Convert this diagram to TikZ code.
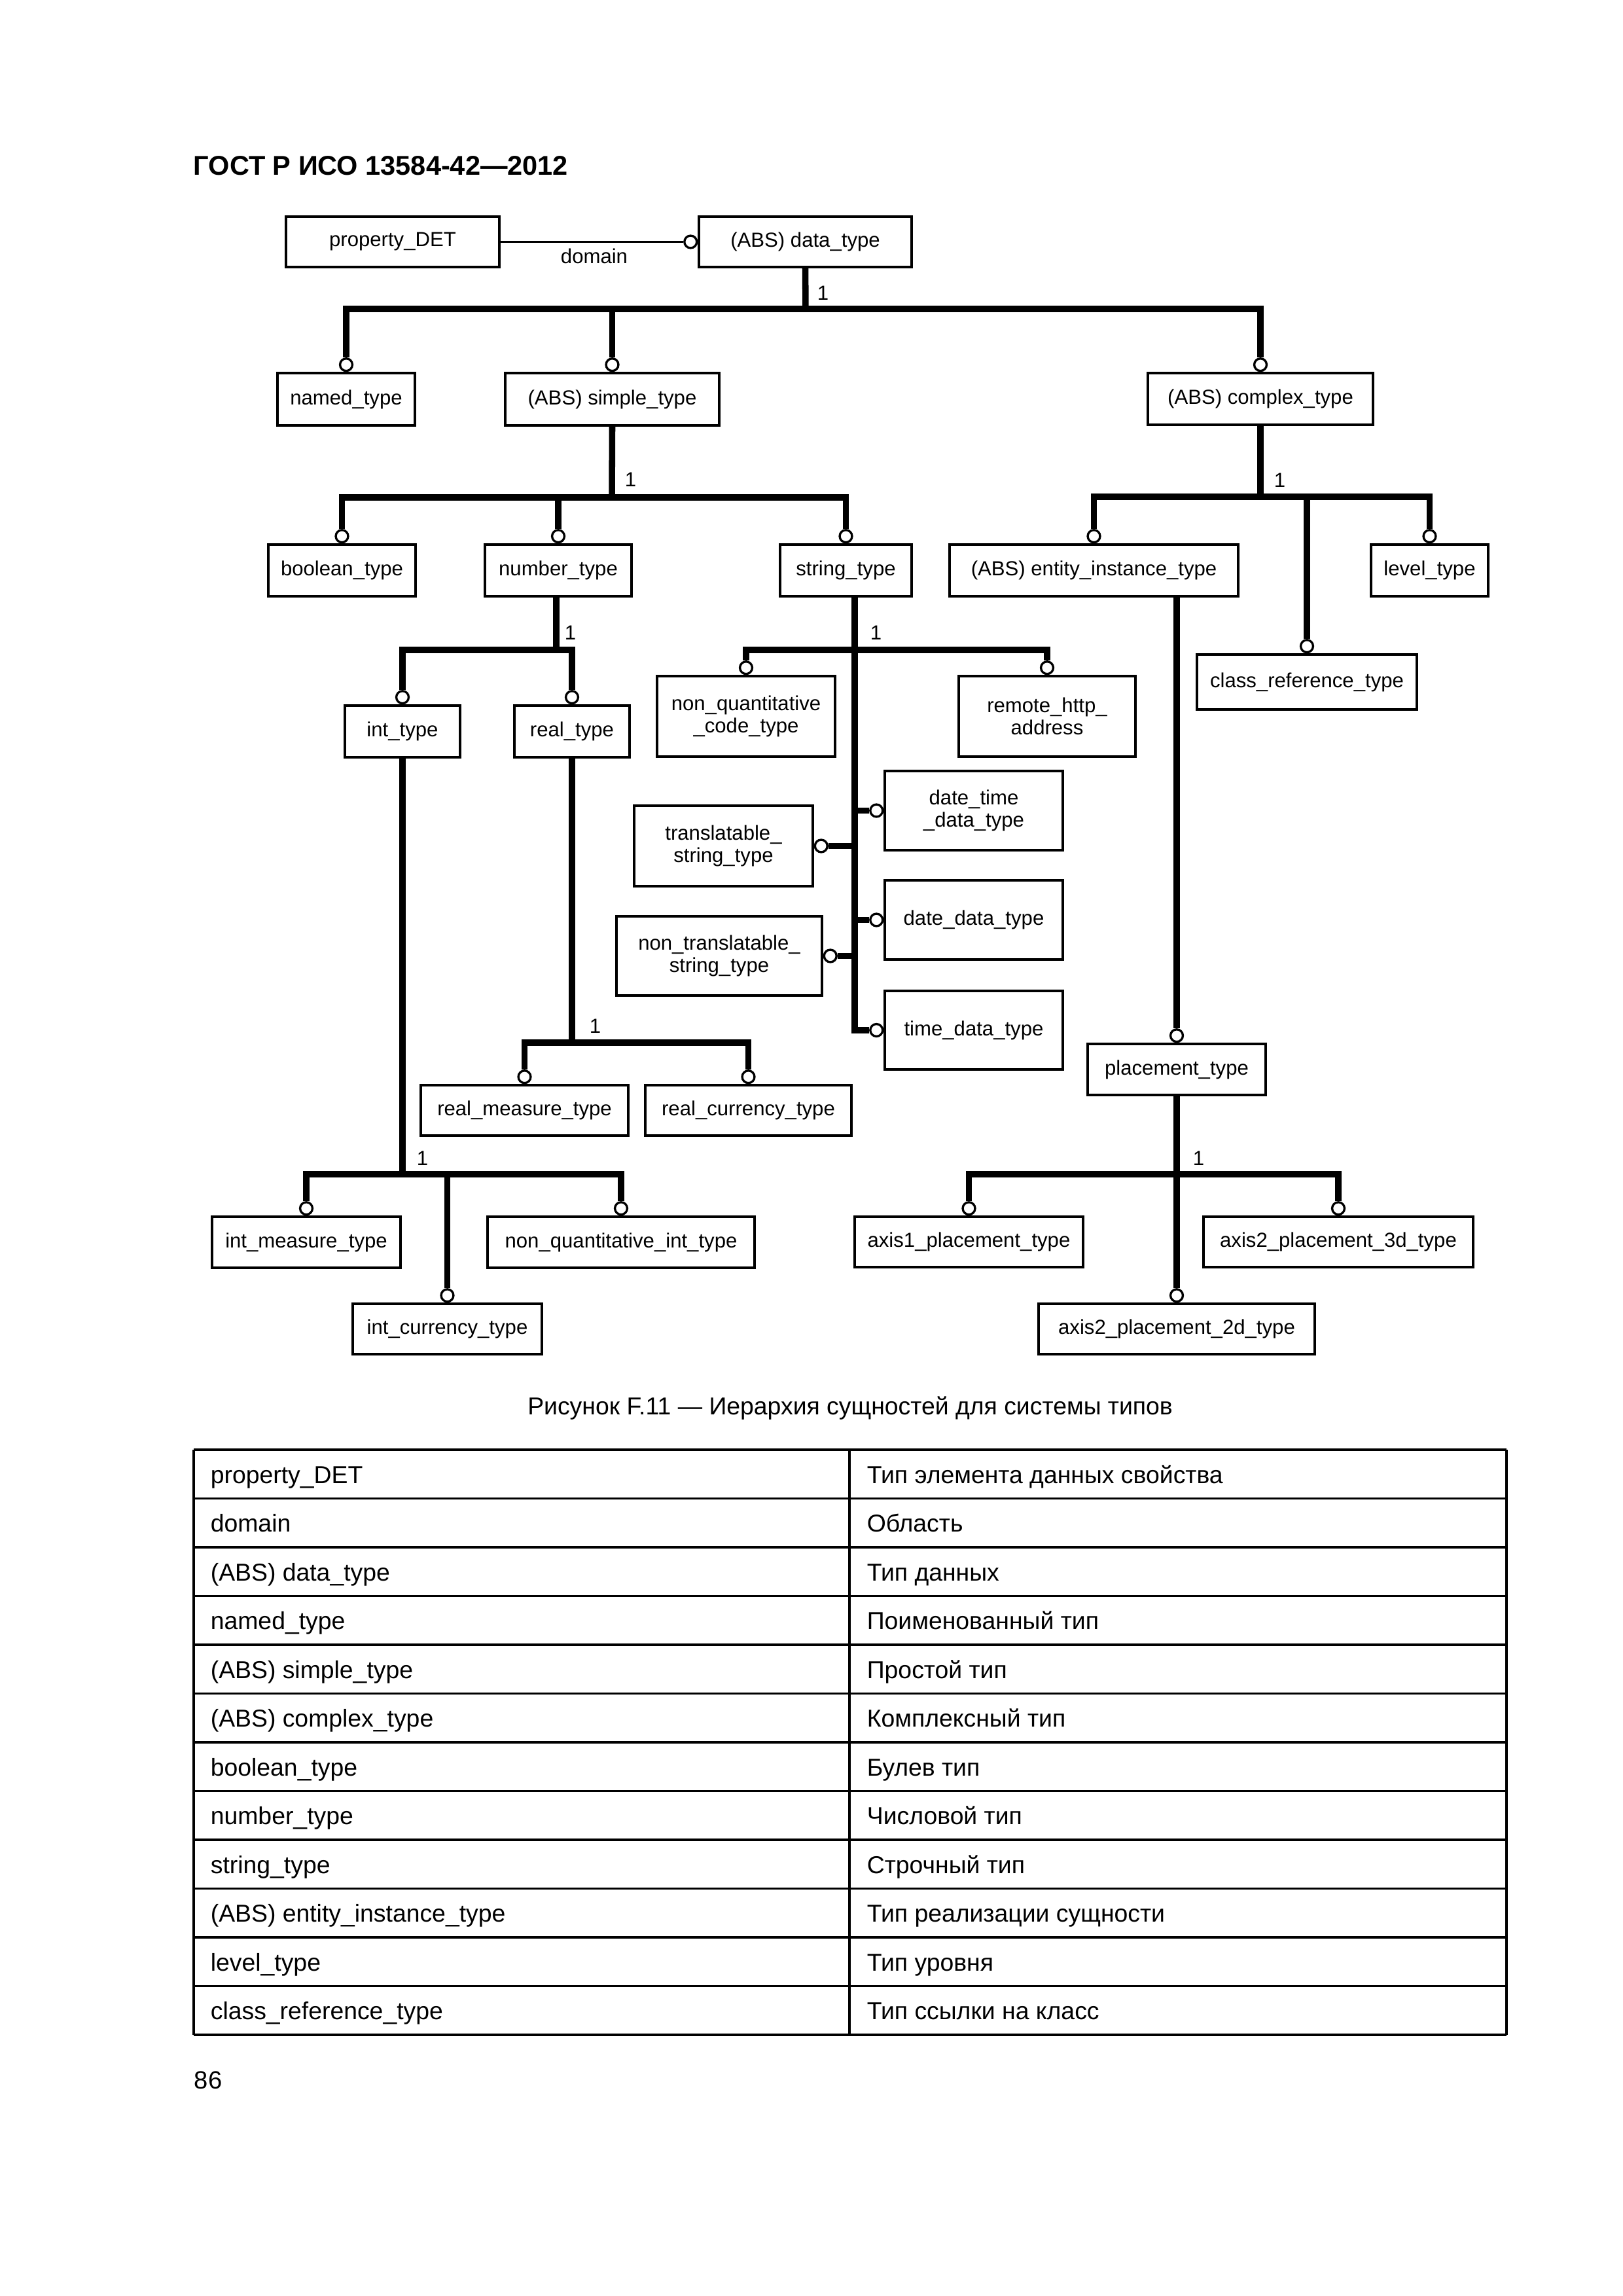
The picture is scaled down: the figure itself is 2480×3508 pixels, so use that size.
\documentclass[tikz,border=0pt]{standalone}
\usepackage{fontspec}
\setmainfont{Liberation Sans}
\newcommand{\mkbox}[6]{\node[box, minimum width={(#4-#2)*0.08467mm}, minimum height={(#5-#3)*0.08467mm}] (#1) at ({(#2+#4)/2},{(#3+#5)/2}) {#6};}
\begin{document}
\begin{tikzpicture}[x=0.08467mm,y=-0.08467mm,
  box/.style={draw, line width=0.8pt, inner sep=0pt, align=center, font=\fontsize{7.5}{8.2}\selectfont},
  ring/.style={draw, circle, fill=white, line width=0.8pt, minimum size=1.6mm, inner sep=0pt},
  conn/.style={line width=2.3pt, line join=miter},
  link/.style={line width=0.9pt},
  lbl/.style={font=\fontsize{7.5}{8.2}\selectfont, inner sep=0pt},
  tbl/.style={font=\fontsize{9}{10}\selectfont, inner sep=0pt, anchor=base west},
  rule/.style={line width=0.8pt}]
\useasboundingbox (0,0) rectangle (2480,3508);
\fill[white] (0,0) rectangle (2480,3508);

\node[anchor=base west, inner sep=0pt, font=\bfseries\fontsize{10}{12}\selectfont] (title) at (295,267) {ГОСТ Р ИСО 13584-42—2012};

% boxes
\mkbox{prop}{437}{331}{763}{408}{property\_DET}
\mkbox{data}{1068}{331}{1393}{408}{(ABS) data\_type}
\mkbox{named}{424}{570}{634}{650}{named\_type}
\mkbox{simple}{772}{570}{1099}{650}{(ABS) simple\_type}
\mkbox{complex}{1754}{570}{2098}{649}{(ABS) complex\_type}
\mkbox{boolean}{410}{832}{635}{911}{boolean\_type}
\mkbox{number}{741}{832}{965}{911}{number\_type}
\mkbox{string}{1192}{832}{1393}{911}{string\_type}
\mkbox{entity}{1451}{832}{1892}{911}{(ABS) entity\_instance\_type}
\mkbox{level}{2095}{832}{2274}{911}{level\_type}
\mkbox{int}{527}{1078}{703}{1157}{int\_type}
\mkbox{real}{786}{1078}{962}{1157}{real\_type}
\mkbox{nqcode}{1004}{1033}{1276}{1156}{non\_quantitative\\\_code\_type}
\mkbox{remote}{1465}{1033}{1735}{1156}{remote\_http\_\\address}
\mkbox{classref}{1829}{1000}{2165}{1084}{class\_reference\_type}
\mkbox{datetime}{1352}{1178}{1624}{1299}{date\_time\\\_data\_type}
\mkbox{transl}{969}{1231}{1242}{1354}{translatable\_\\string\_type}
\mkbox{datedata}{1352}{1345}{1624}{1466}{date\_data\_type}
\mkbox{nontransl}{942}{1400}{1256}{1521}{non\_translatable\_\\string\_type}
\mkbox{timedata}{1352}{1514}{1624}{1634}{time\_data\_type}
\mkbox{placement}{1662}{1595}{1934}{1673}{placement\_type}
\mkbox{realmeas}{643}{1658}{960}{1735}{real\_measure\_type}
\mkbox{realcur}{986}{1658}{1301}{1735}{real\_currency\_type}
\mkbox{intmeas}{324}{1859}{612}{1937}{int\_measure\_type}
\mkbox{nqint}{745}{1859}{1153}{1937}{non\_quantitative\_int\_type}
\mkbox{axisone}{1306}{1859}{1655}{1936}{axis1\_placement\_type}
\mkbox{axisthree}{1839}{1859}{2251}{1936}{axis2\_placement\_3d\_type}
\mkbox{intcur}{539}{1992}{828}{2069}{int\_currency\_type}
\mkbox{axistwo}{1587}{1992}{2009}{2069}{axis2\_placement\_2d\_type}

% rings
\foreach \n in {named,simple,complex,boolean,number,string,entity,level,int,real,nqcode,remote,classref,placement,realmeas,realcur,intmeas,nqint,axisone,axisthree,intcur,axistwo}
  {\node[ring, anchor=south] (r\n) at (\n.north) {};}
\foreach \n in {data,datetime,datedata,timedata}
  {\node[ring, anchor=east] (r\n) at (\n.west) {};}
\foreach \n in {transl,nontransl}
  {\node[ring, anchor=west] (r\n) at (\n.east) {};}

% domain
\draw[link] (prop.east) -- (rdata);
\node[lbl, anchor=base] (dom) at (908,402) {domain};

% data tree
\coordinate (jData) at (1231,472);
\draw[conn] (data.south) -- (jData);
\draw[conn] (rnamed) |- (jData) -| (rcomplex);
\draw[conn] (rsimple) -- (rsimple |- jData);
\node[lbl, anchor=base west] (one1) at (1248,458) {1};

% simple tree
\coordinate (jSimple) at (935,760);
\draw[conn] (simple.south) -- (jSimple);
\draw[conn] (rboolean) |- (jSimple) -| (rstring);
\draw[conn] (rnumber) -- (rnumber |- jSimple);
\node[lbl, anchor=base west] (one2) at (954,743) {1};

% complex tree
\coordinate (jComplex) at (1926,759);
\draw[conn] (complex.south) -- (jComplex);
\draw[conn] (rentity) |- (jComplex) -| (rlevel);
\draw[conn] (rclassref) -- (rclassref |- jComplex);
\node[lbl, anchor=base west] (one3) at (1946,744) {1};

% number tree
\coordinate (jNumber) at (850,993);
\draw[conn] (number.south -| jNumber) -- (jNumber);
\draw[conn] (rint) |- (jNumber) -| (rreal);
\node[lbl, anchor=base west] (one4) at (862,977) {1};

% string tree
\coordinate (sTop) at (1306,911);
\coordinate (jString) at (1306,993);
\draw[conn] (sTop) |- (rtimedata);
\draw[conn] (rnqcode) |- (jString) -| (rremote);
\draw[conn] (rdatetime) -- (rdatetime -| sTop);
\draw[conn] (rdatedata) -- (rdatedata -| sTop);
\draw[conn] (rtransl) -- (rtransl -| sTop);
\draw[conn] (rnontransl) -- (rnontransl -| sTop);
\node[lbl, anchor=base west] (one5) at (1329,977) {1};

% int tree
\coordinate (jInt) at (615,1794);
\draw[conn] (int.south) -- (jInt);
\draw[conn] (rintmeas) |- (jInt) -| (rnqint);
\draw[conn] (rintcur) -- (rintcur |- jInt);
\node[lbl, anchor=base west] (one6) at (636,1780) {1};

% real tree
\coordinate (jReal) at (874,1593);
\draw[conn] (real.south) -- (jReal);
\draw[conn] (rrealmeas) |- (jReal) -| (rrealcur);
\node[lbl, anchor=base west] (one7) at (900,1578) {1};

% entity -> placement
\coordinate (eTop) at (1798,911);
\draw[conn] (eTop) -- (rplacement);

% placement tree
\coordinate (jPlace) at (1798,1794);
\draw[conn] (placement.south) -- (jPlace);
\draw[conn] (raxisone) |- (jPlace) -| (raxisthree);
\draw[conn] (raxistwo) -- (raxistwo |- jPlace);
\node[lbl, anchor=base west] (one8) at (1822,1780) {1};

% caption
\node[anchor=base, inner sep=0pt, font=\fontsize{9}{11}\selectfont] (caption) at (1299,2161) {Рисунок F.11 — Иерархия сущностей для системы типов};

% table
\foreach \k in {0,...,12} {\draw[rule] (296,{2215+\k*74.5}) -- (2302,{2215+\k*74.5});}
\draw[rule] (296,2215) -- (296,3109);
\draw[rule] (1298,2215) -- (1298,3109);
\draw[rule] (2302,2215) -- (2302,3109);
\foreach \i/\a/\b in {1/property\_DET/Тип элемента данных свойства,
  2/domain/Область,
  3/(ABS) data\_type/Тип данных,
  4/named\_type/Поименованный тип,
  5/(ABS) simple\_type/Простой тип,
  6/(ABS) complex\_type/Комплексный тип,
  7/boolean\_type/Булев тип,
  8/number\_type/Числовой тип,
  9/string\_type/Строчный тип,
  10/(ABS) entity\_instance\_type/Тип реализации сущности,
  11/level\_type/Тип уровня,
  12/class\_reference\_type/Тип ссылки на класс}
{
  \pgfmathsetmacro\yb{2215+(\i-1)*74.5+51}
  \node[tbl] (tl\i) at (321,\yb) {\a};
  \node[tbl] (tr\i) at (1324,\yb) {\b};
}

\node[anchor=base west, inner sep=0pt, font=\fontsize{9.2}{10}\selectfont] (page) at (296,3191) {86};
\end{tikzpicture}
\end{document}
